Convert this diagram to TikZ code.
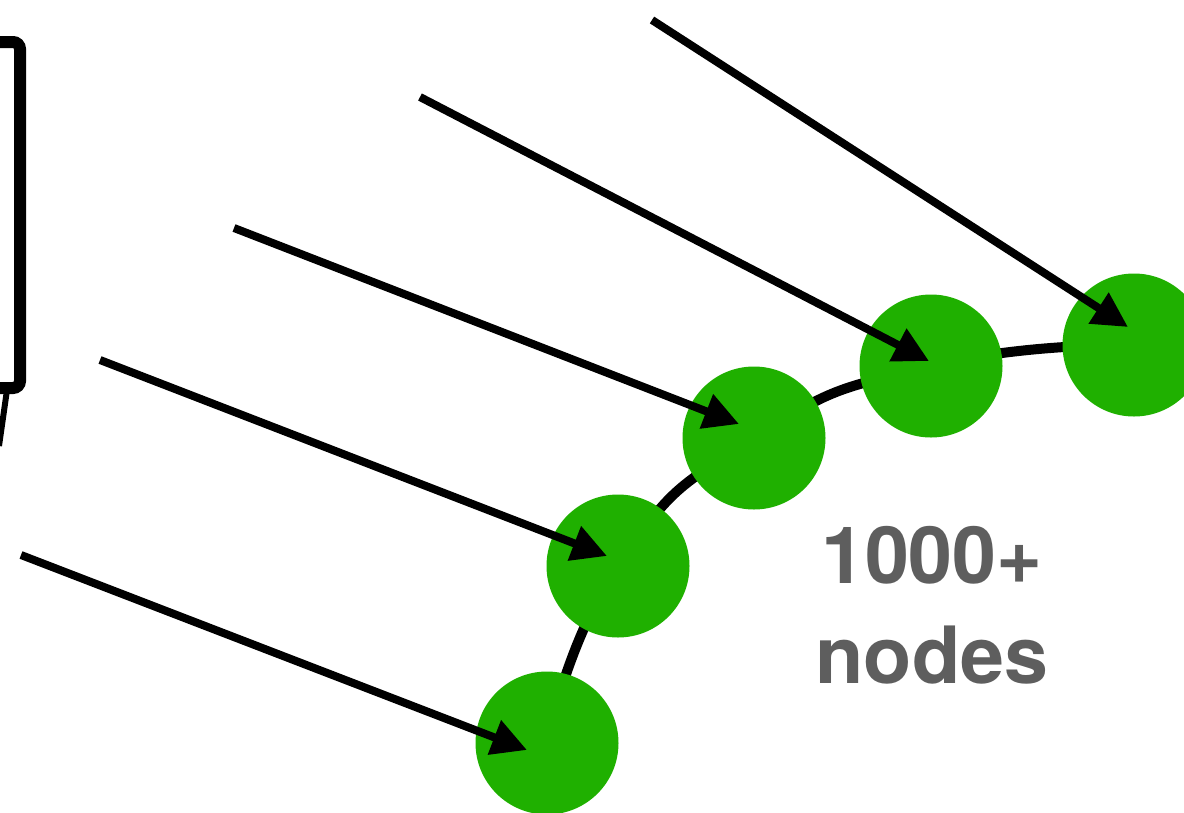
\documentclass[tikz,border=0pt]{standalone}
\usepackage{fontspec}
\setsansfont{TeX Gyre Heros}
\usepackage{tikz}
\usetikzlibrary{arrows.meta,calc}
\definecolor{nodegreen}{rgb}{0.12, 0.69, 0.0}
\definecolor{countgray}{rgb}{0.37, 0.37, 0.37}

\begin{document}
\begin{tikzpicture}[x=1pt, y=-1pt]
    \useasboundingbox (0,0) rectangle (1184,812);

    % edge of the box on the left
    \draw[line width=12pt, rounded corners=7pt] (-40,42) -- (20,42) -- (20,388) -- (-40,388);
    \draw[line width=6pt] (7,390) -- (-1,446);

    \def\chaindata{547/743, 618/566, 754/438, 931/366, 1134/345}
    \foreach \px/\py [count=\i] in \chaindata {
        \coordinate (c-\i) at (\px,\py);
    }
    \draw[line width=10pt] plot[smooth, tension=0.9] coordinates {(c-1) (c-2) (c-3) (c-4) (c-5)};

    \foreach \i in {1,...,5} {
        \node(node-\i)[
            circle,
            fill=nodegreen,
            inner sep=0pt,
            minimum size=143pt
        ] at (c-\i) {};
    }

    \def\feeddata{21/555/-20/7, 100/360/-11/-10, 234/228/-15/-14, 420/97/-2/-5, 652/20/-6/-18}
    \foreach \sx/\sy/\dx/\dy [count=\i] in \feeddata {
        \coordinate (src-\i) at (\sx,\sy);
        \draw[line width=8pt, -{Triangle[length=35pt,width=35pt]}]
            (src-\i) -- ($(node-\i.center)+(\dx,\dy)$);
    }

    \node(count)[
        text=countgray,
        font=\sffamily\bfseries\fontsize{79}{100}\selectfont,
        align=center,
        inner sep=0pt
    ] at (932,605) {1000+\\nodes};
\end{tikzpicture}
\end{document}
